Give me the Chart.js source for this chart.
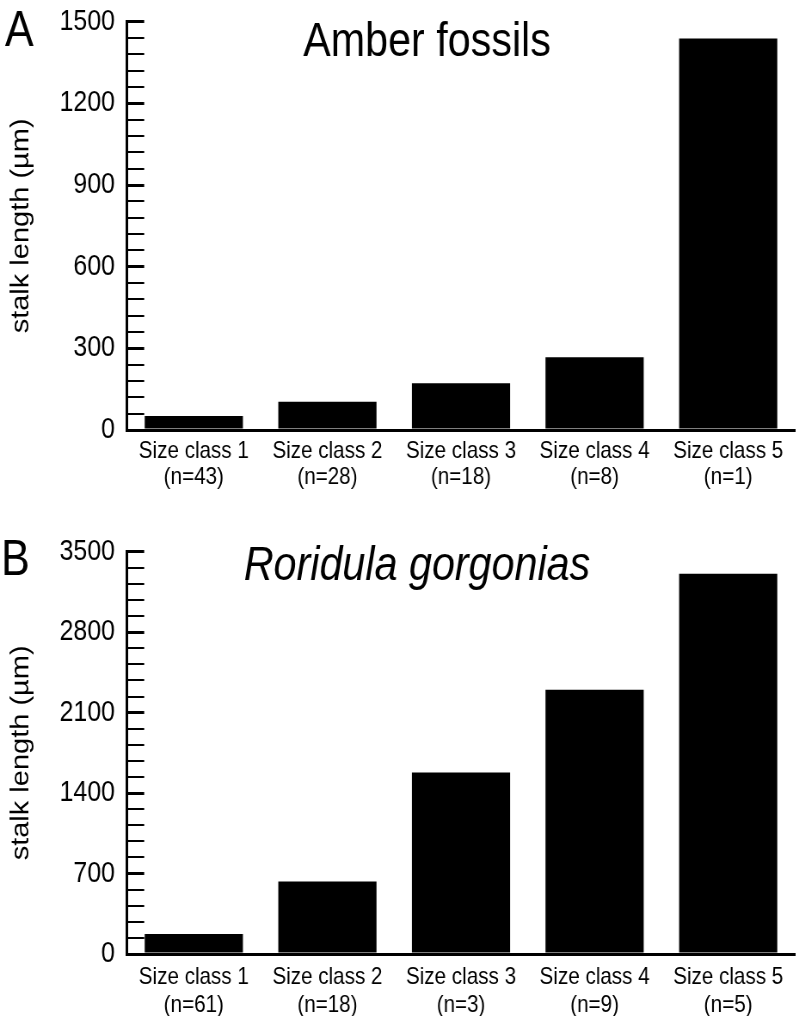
<!DOCTYPE html>
<html>
<head>
<meta charset="utf-8">
<script src="https://cdn.jsdelivr.net/npm/chart.js@4/dist/chart.umd.min.js"></script>
<style>
  html, body { margin: 0; padding: 0; background: #fff; }
  #wrap { position: relative; width: 799px; height: 1016px; overflow: hidden; }
  canvas { position: absolute; left: 0; }
</style>
</head>
<body>
<div id="wrap">
  <canvas id="chartA" width="929" height="508" style="top:0;width:799px;height:508px"></canvas>
  <canvas id="chartB" width="929" height="508" style="top:508px;width:799px;height:508px"></canvas>
</div>
<script>
// data
const categories = ['Size class 1', 'Size class 2', 'Size class 3', 'Size class 4', 'Size class 5'];
const amberN = ['(n=43)', '(n=28)', '(n=18)', '(n=8)', '(n=1)'];
const roridulaN = ['(n=61)', '(n=18)', '(n=3)', '(n=9)', '(n=5)'];
const amberStalk = [51, 104, 172, 267, 1438];
const roridulaStalk = [175, 630, 1579, 2299, 3308];
const amberTicks = { max: 1500, minor: 60, major: 300 };
const roridulaTicks = { max: 3500, minor: 140, major: 700 };

// the figure is a bit condensed horizontally, so the canvas is drawn wider and squeezed by css
const SX = 799 / 929;
const px = (x) => x / SX;

const FONT = "'Liberation Sans', Arial, sans-serif";
Chart.defaults.font.family = FONT;
Chart.defaults.color = '#000';

const panelText = {
  id: 'panelText',
  afterDraw(chart, args, opts) {
    const ctx = chart.ctx;
    ctx.save();
    ctx.fillStyle = '#000';
    ctx.textBaseline = 'alphabetic';
    ctx.textAlign = 'left';
    ctx.font = '50px ' + FONT;
    ctx.fillText(opts.letter, opts.letterX, opts.letterY);
    ctx.textAlign = 'center';
    ctx.font = (opts.italic ? 'italic ' : '') + '48px ' + FONT;
    ctx.fillText(opts.title, opts.titleX, opts.titleY);
    ctx.restore();
  }
};

function makeChart(id, values, nLabels, t, geo, text) {
  const labels = categories.map((c, i) => [c, nLabels[i]]);
  return new Chart(document.getElementById(id), {
    type: 'bar',
    data: {
      labels: labels,
      datasets: [{
        data: values,
        backgroundColor: '#000',
        borderWidth: 0,
        categoryPercentage: 1,
        barPercentage: 0.735,
      }],
    },
    options: {
      responsive: false,
      animation: false,
      devicePixelRatio: 1,
      layout: { padding: { top: geo.top, right: 929 - px(795), bottom: 0, left: 0 } },
      plugins: {
        legend: { display: false },
        tooltip: { enabled: false },
        panelText: text,
      },
      scales: {
        x: {
          grid: { display: false, drawTicks: false },
          border: { display: true, color: '#000', width: 3 },
          ticks: {
            font: { size: 24, lineHeight: geo.lineH },
            padding: geo.labelPad,
            maxRotation: 0,
            autoSkip: false,
          },
          afterFit: (s) => { s.height = geo.xHeight; },
        },
        y: {
          min: 0,
          max: t.max,
          grid: {
            drawOnChartArea: false,
            drawTicks: true,
            tickLength: -20,
            color: '#000',
            lineWidth: (c) => (c.tick && c.tick.value % t.major === 0 ? 3 : 2),
          },
          border: { display: true, color: '#000', width: 3 },
          ticks: {
            stepSize: t.minor,
            autoSkip: false,
            padding: 34,
            font: { size: 29 },
            callback: (v) => (v % t.major === 0 ? String(v) : ''),
          },
          title: {
            display: true,
            text: 'stalk length (µm)',
            font: { size: 29, lineHeight: 1.2 },
            padding: { top: 8, bottom: 0 },
          },
          afterFit: (s) => {
            s.width = px(127);
            s.paddingTop = 0;
            s.paddingBottom = 0;
          },
        },
      },
    },
    plugins: [panelText],
  });
}

makeChart('chartA', amberStalk, amberN, amberTicks,
  { top: 21.7, xHeight: 508 - 430, labelPad: 8, lineH: 1.08 },
  { letter: 'A', letterX: px(5), letterY: 46, title: 'Amber fossils', italic: false, titleX: px(427), titleY: 56 });

makeChart('chartB', roridulaStalk, roridulaN, roridulaTicks,
  { top: 551.7 - 508, xHeight: 508 - (954 - 508), labelPad: 10, lineH: 1.15 },
  { letter: 'B', letterX: px(1), letterY: 575 - 508, title: 'Roridula gorgonias', italic: true, titleX: px(417), titleY: 580 - 508 });
</script>
</body>
</html>
